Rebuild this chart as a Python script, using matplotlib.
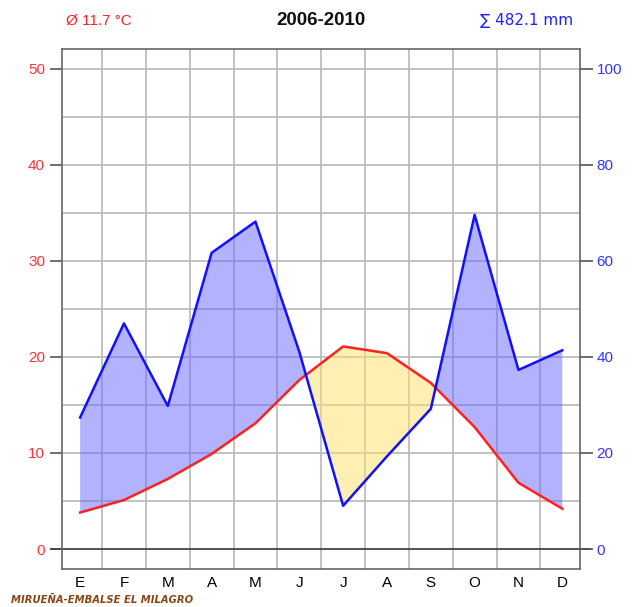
import numpy as np
import matplotlib
matplotlib.use("Agg")
import matplotlib.pyplot as plt

months = ["E", "F", "M", "A", "M", "J", "J", "A", "S", "O", "N", "D"]
temp = np.array([3.8, 5.1, 7.3, 9.9, 13.1, 17.6, 21.1, 20.4, 17.3, 12.7, 6.9, 4.2])
prec = np.array([27.4, 47.0, 29.8, 61.7, 68.2, 41.1, 9.0, 19.3, 29.2, 69.6, 37.3, 41.4])
title = "2006-2010"
station = "MIRUEÑA-EMBALSE EL MILAGRO"
t_ticks = [0, 10, 20, 30, 40, 50]
p_ticks = [0, 20, 40, 60, 80, 100]

plt.rcParams["font.family"] = ["Liberation Sans", "DejaVu Sans"]

fig = plt.figure(figsize=(6.33, 6.07), dpi=100)
ax = fig.add_axes([0.0975, 0.0626, 0.8185, 0.8567])
x = np.arange(12)
ylo, yhi = -2.083, 52.083

# grid
for g in np.arange(0.5, 11, 1):
    ax.axvline(g, color="#bdbdbd", lw=1.3, zorder=0)
for g in np.arange(5, 51, 5):
    ax.axhline(g, color="#bdbdbd", lw=1.3, zorder=0)

p2 = prec / 2.0
ax.fill_between(x, temp, p2, where=p2 >= temp, interpolate=True,
                color="#6666ff", alpha=0.5, lw=0, zorder=1)
ax.fill_between(x, temp, p2, where=p2 <= temp, interpolate=True,
                color="#ffe066", alpha=0.5, lw=0, zorder=1)
ax.plot(x, temp, color="#ff2020", lw=1.8, zorder=3)
ax.plot(x, p2, color="#1010ff", lw=1.8, zorder=3)

ax.axhline(0, xmin=-0.02, xmax=1.02, color="#444444", lw=1.3, clip_on=False, zorder=2)

ax.set_xlim(-0.42, 11.4)
ax.set_ylim(ylo, yhi)
ax.set_xticks(x)
ax.set_xticklabels(months, fontsize=11)
ax.tick_params(axis="x", length=0, pad=5)
ax.set_yticks(t_ticks)
ax.tick_params(axis="y", colors="#555555", labelcolor="#ff3333", length=9,
               width=1.2, labelsize=11, pad=3)
for s in ax.spines.values():
    s.set_color("#666666")
    s.set_linewidth(1.2)

ax2 = ax.twinx()
ax2.set_ylim(ylo * 2, yhi * 2)
ax2.set_yticks(p_ticks)
ax2.tick_params(axis="y", colors="#555555", labelcolor="#3333ff", length=9,
                width=1.2, labelsize=11, pad=3)
for s in ax2.spines.values():
    s.set_visible(False)

fig.text(0.104, 0.966, "Ø 11.7 °C", color="#ff2020", fontsize=11, va="center")
fig.text(0.507, 0.966, title, color="#111111", fontsize=13.5, fontweight="bold",
         ha="center", va="center")
fig.text(0.905, 0.966, "∑ 482.1 mm", color="#2020ff", fontsize=11, ha="right", va="center",
         family=["DejaVu Sans"])
fig.text(0.018, 0.007, station, color="#8b4513", fontsize=8, fontweight="bold",
         fontstyle="italic", fontstretch="condensed", va="baseline",
         family=["DejaVu Sans"])

fig.savefig("out.png", dpi=100)
